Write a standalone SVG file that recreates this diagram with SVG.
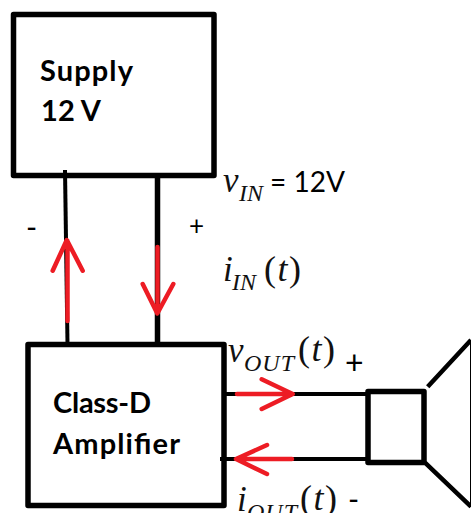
<svg xmlns="http://www.w3.org/2000/svg" width="471" height="513" viewBox="0 0 471 513">
<style>
.box{fill:none;stroke:#000;stroke-width:5.5;stroke-linejoin:round}
.w{fill:none;stroke:#000;stroke-linecap:butt}
.r{fill:none;stroke:#ed1c24;stroke-width:4.5;stroke-linecap:round;stroke-linejoin:round}
.b{font-family:Lato,"Liberation Sans",sans-serif;font-weight:700;fill:#000;font-size:29px}
.t{font-family:Lato,"Liberation Sans",sans-serif;fill:#000}
.m{font-family:"Liberation Serif",serif;font-style:italic;fill:#111;font-size:35px}
.s{font-family:"Liberation Serif",serif;font-style:italic;fill:#111;font-size:24px}
.p{font-family:"Liberation Serif",serif;fill:#111;font-size:36px;letter-spacing:1.5px}
</style>
<rect width="471" height="513" fill="#fff"/>
<g id="connectors">
<path class="w" stroke-width="4" d="M65 170L67.500 344"/>
<path class="w" stroke-width="5.500" d="M157.500 176V344"/>
<path class="w" stroke-width="4" d="M224 394H368M220 459H368"/>
<path class="r" d="M67.500 321V241M52.700 270.700L66.800 240L82.700 270.700"/>
<path class="r" d="M157.500 247V313M142.700 284L157.300 313.500L173.300 284"/>
<path class="r" d="M237 394H292M261.700 379.300L292.700 394L261.700 409"/>
<path class="r" d="M292 459H237M267 445L236 459L267 474"/>
</g>
<g id="supply">
<rect class="box" x="13.500" y="14.500" width="200.500" height="161"/>
<text class="b" x="40" y="81" textLength="93">Supply</text>
<text class="b" x="41" y="121" textLength="60">12 V</text>
</g>
<g id="amplifier">
<rect class="box" x="28" y="344.500" width="196" height="161"/>
<text class="b" x="53" y="413" textLength="98">Class-D</text>
<text class="b" x="53" y="454" textLength="127">Amplifier</text>
</g>
<g id="speaker">
<rect class="box" x="368" y="391.500" width="56" height="71"/>
<path class="w" stroke-width="4.500" d="M427.700 386.700L471 340M425 462.700L471 506.700"/>
<path class="w" stroke-width="1" stroke="#888" d="M470.500 340V507"/>
</g>
<g id="labels">
<text class="m" x="223" y="192">v</text><text class="s" x="239" y="201">IN</text><text class="t" x="270" y="192" font-size="28" textLength="75">= 12V</text>
<text class="t" x="26" y="238" font-size="30">-</text>
<text class="t" x="189" y="235" font-size="26">+</text>
<text class="m" x="223" y="281">i</text><text class="s" x="232" y="290">IN</text><text class="p" x="264" y="281">(<tspan font-style="italic">t</tspan>)</text>
<text class="m" x="228" y="362">v</text><text class="s" x="244" y="371" textLength="50">OUT</text><text class="p" x="298" y="361">(<tspan font-style="italic">t</tspan>)</text>
<text class="t" x="345" y="374" font-size="32">+</text>
<text class="m" x="237" y="511">i</text><text class="s" x="247" y="520" textLength="50">OUT</text><text class="p" x="300" y="510">(<tspan font-style="italic">t</tspan>)</text>
<text class="t" x="348" y="510" font-size="30">-</text>
</g>
</svg>
